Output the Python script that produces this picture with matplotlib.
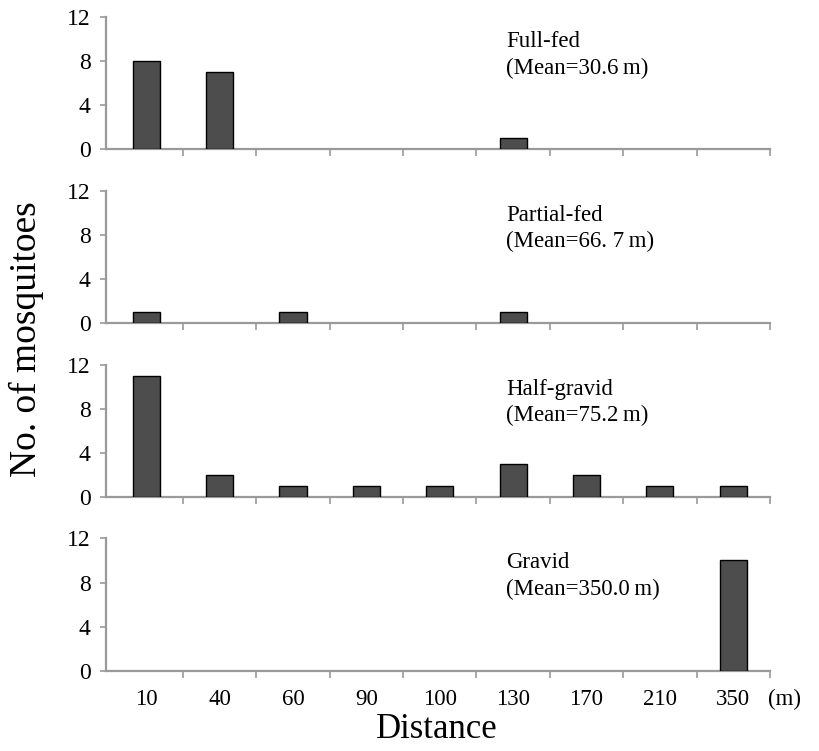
import matplotlib.pyplot as plt
import numpy as np

plt.rcParams['font.family'] = ['Liberation Serif', 'DejaVu Serif']

distances = ['10', '40', '60', '90', '100', '130', '170', '210', '350']
full_fed = [8, 7, 0, 0, 0, 1, 0, 0, 0]
partial_fed = [1, 0, 1, 0, 0, 1, 0, 0, 0]
half_gravid = [11, 2, 1, 1, 1, 3, 2, 1, 1]
gravid = [0, 0, 0, 0, 0, 0, 0, 0, 10]

panels = [
    ('Full-fed', '(Mean=30.6\u2009m)', full_fed),
    ('Partial-fed', '(Mean=66. 7\u2009m)', partial_fed),
    ('Half-gravid', '(Mean=75.2\u2009m)', half_gravid),
    ('Gravid', '(Mean=350.0\u2009m)', gravid),
]

bar_color = '#4d4d4d'
axis_color = '#9a9a9a'

fig = plt.figure(figsize=(8.2, 7.51), dpi=100)
left, width = 0.129, 0.810
bottoms = [0.801, 0.570, 0.338, 0.107]
height = 0.176

x = np.arange(len(distances))
for i, (name, mean, vals) in enumerate(panels):
    ax = fig.add_axes([left, bottoms[i], width, height])
    vals = np.array(vals)
    keep = vals > 0
    ax.bar(x[keep], vals[keep], width=0.37, color=bar_color, edgecolor='black',
           linewidth=1.0, zorder=3)
    ax.set_xlim(-0.55, 8.45)
    ax.set_ylim(0, 12)
    ax.set_yticks([0, 4, 8, 12])
    for s in ['top', 'right']:
        ax.spines[s].set_visible(False)
    for s in ['left', 'bottom']:
        ax.spines[s].set_color(axis_color)
        ax.spines[s].set_linewidth(1.6)
    ax.tick_params(axis='y', direction='out', length=4, width=1.2, color=axis_color,
                   labelsize=17, pad=7)
    # x ticks sit between the categories
    ax.set_xticks(x + 0.5)
    ax.set_xticklabels([])
    ax.set_xticks(x, minor=True)
    ax.tick_params(axis='x', which='major', direction='out', length=5, width=1.2, color=axis_color)
    ax.tick_params(axis='x', which='minor', length=0, labelsize=16.5, pad=13)
    if i == 3:
        ax.set_xticklabels(distances, minor=True)
        ax.text(1.022, -0.22, '(m)', transform=ax.transAxes, fontsize=16.5, va='center', ha='center')
    else:
        ax.set_xticklabels([], minor=True)
    ax.text(0.603, 0.815, name, transform=ax.transAxes, fontsize=16.5, va='center', ha='left')
    ax.text(0.603, 0.615, mean, transform=ax.transAxes, fontsize=16.5, va='center', ha='left')

fig.text(0.032, 0.548, 'No. of mosquitoes', rotation=90, fontsize=27, va='center', ha='center')
fig.text(0.533, 0.006, 'Distance', fontsize=25, va='bottom', ha='center')

fig.savefig('out.png', dpi=100)
